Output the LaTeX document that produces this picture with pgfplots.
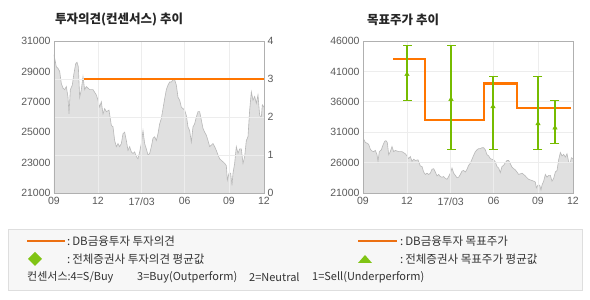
\documentclass[border=0pt]{standalone}
\usepackage{fontspec}
\setmainfont{Liberation Sans}
\newfontfamily\kr{Noto Sans CJK KR}
\usepackage{pgfplots}
\usepackage{pgfplotstable}
\pgfplotsset{compat=1.18}
\definecolor{areafill}{HTML}{E0E0E0}
\definecolor{arealine}{HTML}{B8B8B8}
\definecolor{org}{HTML}{FF7500}
\definecolor{orgleg}{HTML}{EC7012}
\definecolor{grn}{HTML}{76BC00}
\definecolor{grnleg}{HTML}{80C414}
\definecolor{framec}{HTML}{B0B0B0}
\definecolor{gridc}{HTML}{EDEDED}
\definecolor{ticktxt}{HTML}{5A5A5A}
\definecolor{legtxt}{HTML}{333333}

\pgfplotstableread{
x y
0 30100
7 29300
12 29200
17 29000
22 28200
27 27900
32 27800
37 28000
42 27300
45 26200
49 27800
55 28100
59 28750
65 29500
69 29600
73 29300
77 27300
82 27800
87 28650
92 27800
97 28000
102 27900
107 27800
117 27800
127 27450
132 27100
137 26650
142 27000
147 26200
152 26550
157 26350
165 26450
172 25450
177 25350
182 24450
187 24050
192 24250
197 24050
202 24250
207 24900
212 25000
217 24450
222 23800
227 24050
232 23700
237 23600
242 23700
247 23400
252 23250
257 23700
262 24250
267 25100
272 24250
277 23900
282 23500
287 23600
292 24050
297 24600
302 24700
307 24450
312 24900
317 25550
322 25900
327 26550
332 27200
337 27800
342 28100
347 28300
352 28300
357 28450
362 28450
367 28100
372 27300
377 27100
382 26650
387 26550
392 26450
397 26100
402 25350
407 25100
412 24350
417 25350
422 25550
427 26000
432 26350
437 26350
442 25800
447 25250
452 25000
457 24800
462 24450
467 24050
472 24150
477 24250
482 24050
487 23800
492 23500
497 23250
502 23150
507 23050
512 22950
517 22800
520 21850
525 22300
530 22300
534 21500
537 22300
542 22950
547 24050
552 23600
557 23900
562 23900
567 22950
572 23400
577 24450
582 24700
587 26450
592 27650
597 27100
602 27350
607 26900
612 27450
617 26100
622 26000
625 26800
630 26650
}\price

\pgfplotsset{
  base/.style={
    scale only axis, width=210pt, height=152pt,
    xmin=0, xmax=630,
    axis line style={framec, line width=0.8pt},
    major tick length=0pt,
    tick label style={font=\fontsize{10.5}{12}\selectfont, text=ticktxt},
    /pgf/number format/assume math mode=true,
    /pgf/number format/1000 sep={},
    scaled y ticks=false,
    xtick={0,132,263,392,525,630},
    xticklabels={09,12,17/03,06,09,12},
    xticklabel style={yshift=-1pt},
    grid style={gridc, line width=0.9pt},
  },
  whisker/.style={color=grn, line width=1.2pt, mark=-, mark size=4.5pt, mark options={solid, color=grn, line width=1.2pt}},
}

\begin{document}
\begin{tikzpicture}
\path[use as bounding box] (0,0) rectangle (590pt,300pt);
\fill[white] (0,0) rectangle (590pt,300pt);

% titles
\node[anchor=west, font=\kr\bfseries\fontsize{12.5}{14}\selectfont, text=black!85, inner sep=0pt] at (55pt,280pt) {투자의견(컨센서스) 추이};
\node[anchor=west, font=\kr\bfseries\fontsize{12.5}{14}\selectfont, text=black!85, inner sep=0pt] at (367pt,280pt) {목표주가 추이};

% ---------- left chart: price area (left axis labels) ----------
\begin{axis}[base, at={(54pt,107pt)}, anchor=south west,
  ymin=21000, ymax=31000, ytick={21000,23000,...,31000},
  xtick=\empty, axis line style={draw=none}]
\addplot[fill=areafill, draw=none] table {\price} \closedcycle;
\addplot[arealine, line width=0.6pt] table {\price};
\end{axis}
% ---------- left chart: frame, grid, right axis ----------
\begin{axis}[base, at={(54pt,107pt)}, anchor=south west,
  ymin=0, ymax=4, ytick={0,1,2,3,4}, yticklabel pos=right,
  xmajorgrids, ymajorgrids, axis on top]
\end{axis}
% ---------- left chart: investment opinion ----------
\begin{axis}[base, at={(54pt,107pt)}, anchor=south west,
  ymin=0, ymax=4, hide axis]
\addplot[org, line width=2.2pt] coordinates {(90,3) (630,3)};
\end{axis}

% ---------- right chart: price area ----------
\begin{axis}[base, at={(363pt,107pt)}, anchor=south west,
  ymin=21000, ymax=46000, hide axis]
\addplot[fill=areafill, draw=none] table {\price} \closedcycle;
\addplot[arealine, line width=0.6pt] table {\price};
\end{axis}
% ---------- right chart: frame, grid, axis ----------
\begin{axis}[base, at={(363pt,107pt)}, anchor=south west,
  ymin=21000, ymax=46000, ytick={21000,26000,...,46000},
  xmajorgrids, ymajorgrids, axis on top]
\end{axis}
% ---------- right chart: target price and consensus ----------
\begin{axis}[base, at={(363pt,107pt)}, anchor=south west,
  ymin=21000, ymax=46000, hide axis, clip=false]
\addplot[org, line width=2.2pt, const plot] coordinates {
  (90,43000) (185,33000) (362,39000) (461,35000) (625,35000)};
% consensus range (low - high) per date
\addplot[whisker] coordinates {(132,36200) (132,45200)};
\addplot[whisker] coordinates {(264,28100) (264,45200)};
\addplot[whisker] coordinates {(390,28100) (390,40200)};
\addplot[whisker] coordinates {(525,28100) (525,40200)};
\addplot[whisker] coordinates {(576,29100) (576,36200)};
% consensus average
\addplot[only marks, mark=triangle*, mark size=2.6pt, mark options={draw=grn, fill=grn}]
  coordinates {(132,40500) (264,36400) (390,35200) (525,32400) (576,31700)};
\end{axis}

% ---------- legend ----------
\draw[fill=black!3, draw=black!13, line width=0.8pt] (8pt,10pt) rectangle (582pt,71pt);
\begin{scope}[every node/.style={anchor=west, inner sep=0pt, font=\kr\fontsize{11.5}{13}\selectfont, text=legtxt}]
\draw[orgleg, line width=2pt] (27pt,59pt) -- (65pt,59pt);
\node at (67pt,59pt) {:\,DB금융투자 투자의견};
\fill[grnleg] (35pt,48pt) -- (42pt,41pt) -- (35pt,34pt) -- (28pt,41pt) -- cycle;
\node at (67pt,41pt) {:\,전체증권사 투자의견 평균값};
\draw[orgleg, line width=2pt] (358pt,59pt) -- (397pt,59pt);
\node at (400pt,59pt) {:\,DB금융투자 목표주가};
\fill[grnleg] (358pt,37pt) -- (372pt,37pt) -- (365pt,45pt) -- cycle;
\node at (400pt,41pt) {:\,전체증권사 목표주가 평균값};
\node[font=\kr\fontsize{11}{13}\selectfont] at (27pt,23pt) {컨센서스:4=S/Buy};
\node[font=\kr\fontsize{11}{13}\selectfont] at (137pt,23pt) {3=Buy(Outperform)};
\node[font=\kr\fontsize{11}{13}\selectfont] at (249pt,23pt) {2=Neutral};
\node[font=\kr\fontsize{11}{13}\selectfont] at (312pt,23pt) {1=Sell(Underperform)};
\end{scope}
\end{tikzpicture}
\end{document}
